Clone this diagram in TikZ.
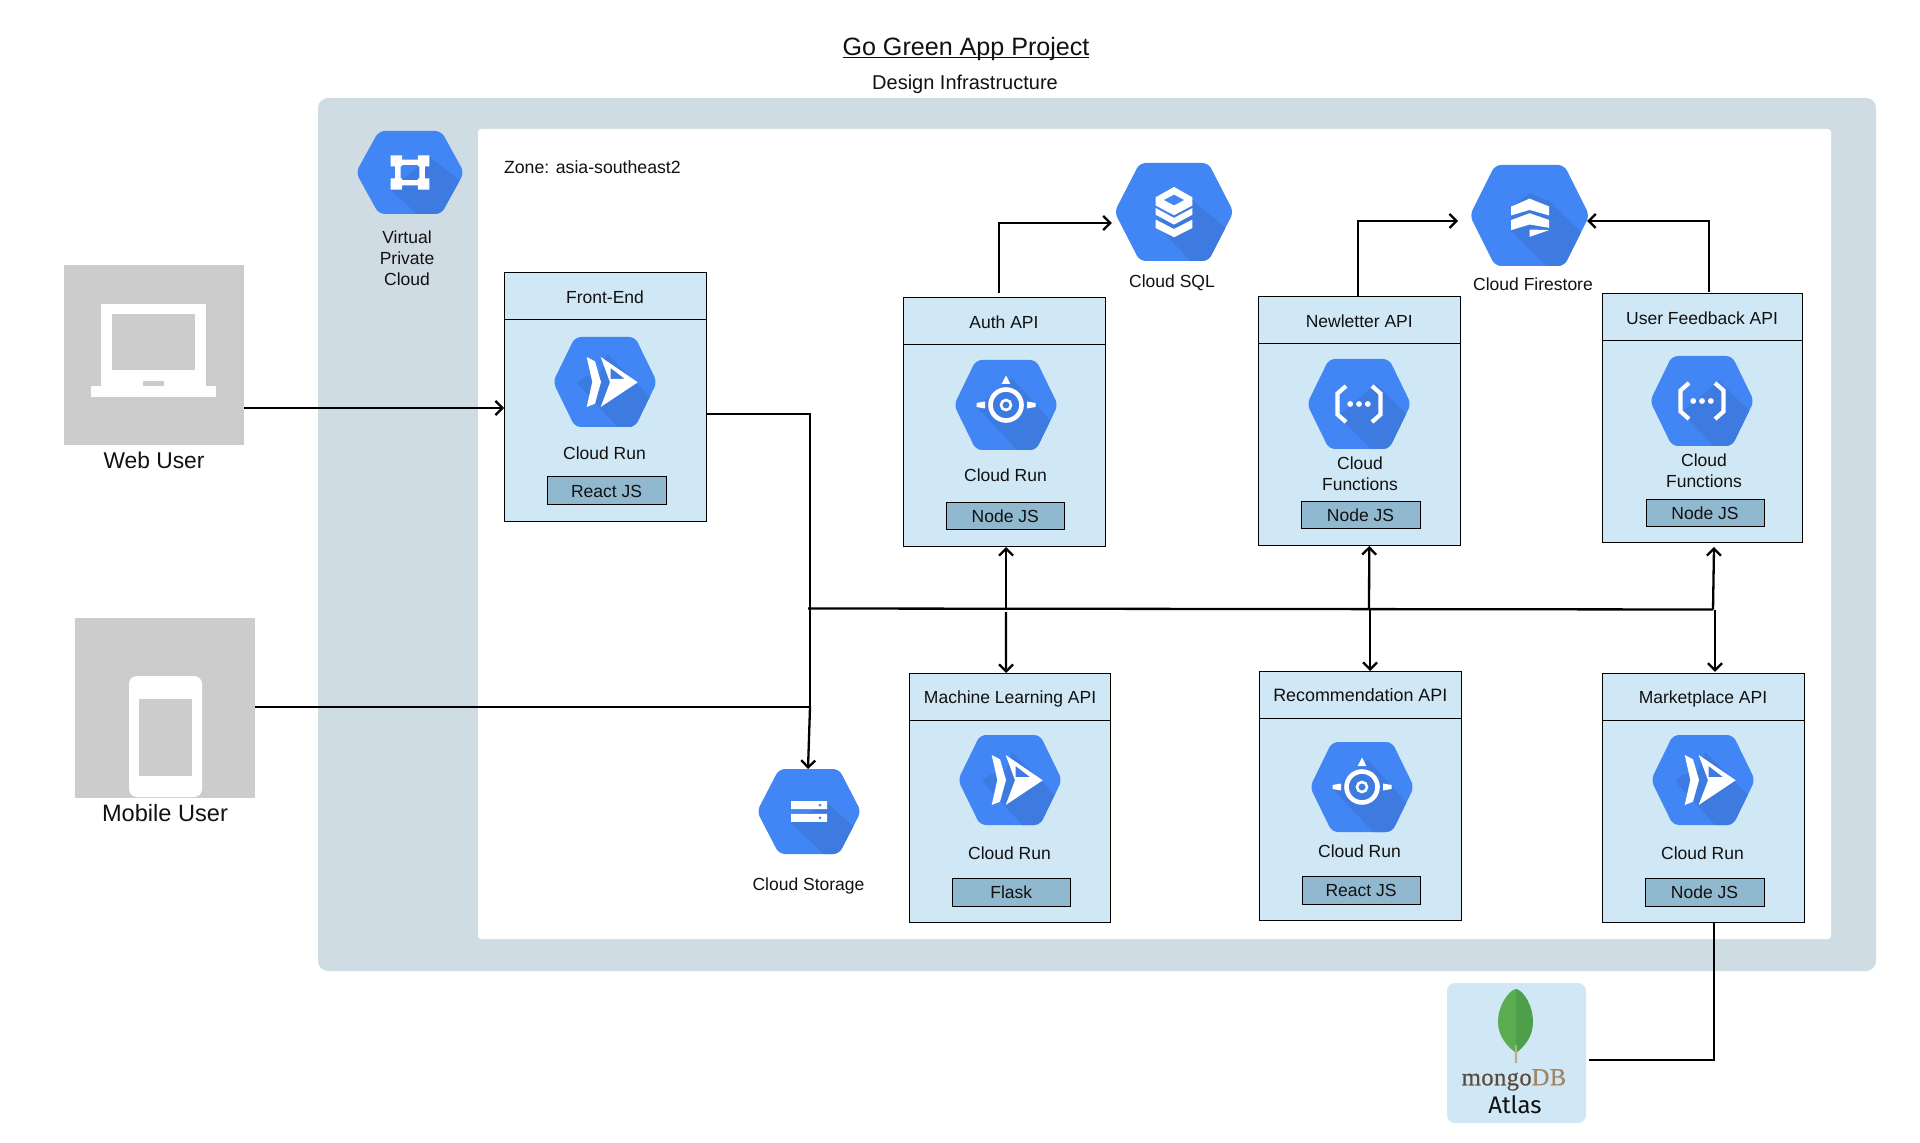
\documentclass[tikz,border=0pt]{standalone}
\usepackage{fontspec}
\setmainfont{Liberation Sans}
\newfontfamily\mongofont[LetterSpace=1.6,FakeBold=0.6]{Liberation Serif}
\newfontfamily\atlasfont{Fira Sans}
\usetikzlibrary{arrows.meta}
\definecolor{panelc}{HTML}{CFDCE3}
\definecolor{boxc}{HTML}{D0E8F5}
\definecolor{tagc}{HTML}{90B8CE}
\definecolor{grayc}{HTML}{CCCCCC}
\definecolor{hexc}{HTML}{4285F4}
\definecolor{hexd}{HTML}{3E7BE0}
\definecolor{txtc}{HTML}{111111}
\definecolor{leafl}{HTML}{59AD50}
\definecolor{leafr}{HTML}{4DA049}
\definecolor{stemc}{HTML}{B8AE8A}
\definecolor{mongoa}{HTML}{5A4B3E}
\definecolor{mongob}{HTML}{A08665}
\tikzset{
  lab/.style={inner sep=0pt,outer sep=0pt,text=txtc,font=\fontsize{8.75}{10.5}\selectfont,text height=6.3pt,text depth=0pt},
  multilab/.style={inner sep=0pt,outer sep=0pt,text=txtc,font=\fontsize{8.75}{10.5}\selectfont,align=center},
  boxbody/.style={draw=black,line width=.5pt,fill=boxc,inner sep=0pt,outer sep=0pt,anchor=north west},
  boxhead/.style={boxbody,lab,text height=7.3pt},
  tagbox/.style={draw=black,line width=.5pt,fill=tagc,lab,anchor=north west},
  hexanchor/.style={inner sep=0pt,outer sep=0pt},
  userbox/.style={fill=grayc,inner sep=0pt,outer sep=0pt,anchor=north west},
  conn/.style={line width=1.15pt,draw=black},
  arr/.style={conn,-{Straight Barb[length=3.5pt,width=7pt]}},
}
\def\hexpath{(-52,0) -- (-30,-45) -- (30,-45) -- (52,0) -- (30,45) -- (-30,45) -- cycle}
% name cx cy w h icon
\newcommand\hexa[6]{%
  \node[hexanchor,minimum width=#4*0.5pt,minimum height=#5*0.5pt] (#1) at (#2,#3) {};
  \begin{scope}[shift={(#2,#3)},xscale=#4/100,yscale=#5/90]
    \begin{scope}
      \clip[rounded corners=3pt] \hexpath;
      \fill[hexc] (-60,-60) rectangle (60,60);
      #6
    \end{scope}
  \end{scope}}
\newcommand\darkpart[1]{\fill[hexd] #1 -- cycle;}
\newcommand\iconrun{%
  \darkpart{(-28,1) -- (-20,-5) -- (-4,-10) -- (2,-28) -- (60,30) -- (60,60) -- (26,60)}
  \fill[white] (-18.3,-25) -- (-10,-20.7) -- (-4,0) -- (-10,21.7) -- (-18.3,25) -- (-12.7,0) -- cycle;
  \fill[white,even odd rule] (-4.3,-25) -- (32.7,0.3) -- (-4.3,25) -- (5,0.3) -- cycle (5.7,-14) -- (20,-3) -- (5.7,-3) -- cycle;}
\newcommand\iconengine{%
  \darkpart{(-29,2) -- (6,-27) -- (60,33) -- (60,60) -- (25,60)}
  \draw[white,line width=2.3pt] (0,0) circle (15.5);
  \draw[white,line width=1.3pt] (0,0) circle (5);
  \fill[white] (0,-29.5) -- (4.3,-21) -- (-4.3,-21) -- cycle;
  \fill[white] (-29.5,-2) -- (-21,-3.5) -- (-21,3.5) -- (-29.5,2) -- cycle;
  \fill[white] (29.5,-2) -- (21,-3.5) -- (21,3.5) -- (29.5,2) -- cycle;}
\newcommand\iconfunc{%
  \darkpart{(-21,12) -- (17,-20) -- (60,23) -- (60,60) -- (27,60)}
  \draw[white,line width=2.1pt,line join=miter] (-13,-18) -- (-21.5,-10.5) -- (-21.5,10.5) -- (-13,18);
  \draw[white,line width=2.1pt,line join=miter] (13,-18) -- (21.5,-10.5) -- (21.5,10.5) -- (13,18);
  \fill[white] (-8.8,0) circle (2.9) (0,0) circle (2.9) (8.8,0) circle (2.9);}
\newcommand\iconsql{%
  \darkpart{(-16,10) -- (16,-11) -- (60,28) -- (60,60) -- (27,60)}
  \fill[white,even odd rule] (0,-23) -- (16,-13.5) -- (16,-6) -- (0,3) -- (-16,-6) -- (-16,-13.5) -- cycle (0,-16) -- (9,-11) -- (0,-6) -- (-9,-11) -- cycle;
  \fill[white] (-16,-3.6) -- (0,5.4) -- (16,-3.6) -- (16,2.5) -- (0,11.6) -- (-16,2.5) -- cycle;
  \fill[white] (-16,7) -- (0,15.6) -- (16,7) -- (16,14.7) -- (0,23.2) -- (-16,14.7) -- cycle;}
\newcommand\iconfire{%
  \darkpart{(-16,14) -- (-16,-8) -- (0,-20) -- (17,-13) -- (60,30) -- (60,60) -- (30,60)}
  \fill[white] (-16,-8) -- (0,-15) -- (17,-8) -- (17,0) -- (0,-5) -- (-16,0) -- cycle;
  \fill[white] (-16,4) -- (0,-2) -- (17,4) -- (17,11) -- (0,8) -- (-16,13) -- cycle;
  \fill[white] (0,12.5) -- (17,13) -- (0,19) -- cycle;}
\newcommand\iconstore{%
  \darkpart{(-18,12.4) -- (17.4,-9.5) -- (60,30) -- (60,60) -- (30,60)}
  \fill[white] (-18,-11) rectangle (18,-2.5) (-18,2.5) rectangle (18,11);
  \fill[hexc] (11,-6.7) circle (1.6) (11,6.7) circle (1.6);}
\newcommand\iconvpc{%
  \darkpart{(-19,19) -- (19,-17) -- (60,20) -- (60,60) -- (22,60)}
  \fill[white,even odd rule] (-14.4,-14) rectangle (14.4,14) (-9,-8.3) rectangle (9,8.3);
  \fill[white] (-18.6,-18.5) rectangle (-7.5,-6.5) (7.5,-18.5) rectangle (18.6,-6.5) (-18.6,6.5) rectangle (-7.5,18.5) (7.5,6.5) rectangle (18.6,18.5);}
% name x0 y0 x1 y1 yh title
\newcommand\apibox[7]{%
  \node[boxbody,minimum width={(#4-#2)*0.5pt},minimum height={(#5-#3)*0.5pt}] (#1) at (#2,#3) {};
  \node[boxhead,minimum width={(#4-#2)*0.5pt},minimum height={(#6-#3)*0.5pt}] (#1-head) at (#2,#3) {#7};}
% name x0 y0 x1 y1 text
\newcommand\techtag[6]{%
  \node[tagbox,minimum width={(#4-#2)*0.5pt},minimum height={(#5-#3)*0.5pt}] (#1) at (#2,#3) {#6};}
\begin{document}
\begin{tikzpicture}[x=0.5pt,y=-0.5pt]
\useasboundingbox (0,0) rectangle (1920,1143);
\fill[white] (0,0) rectangle (1920,1143);
% panels
\fill[panelc,rounded corners=5pt] (318,98) rectangle (1876,971);
\fill[white,rounded corners=1.5pt] (478,129) rectangle (1831,939);
% titles
\node[lab,font=\fontsize{12.55}{15}\selectfont] (title) at (966,49.5) {\sbox0{Go Green App Project}\usebox0\llap{\rule[-1.2pt]{\wd0}{0.8pt}}};
\node[lab,font=\fontsize{10}{12}\selectfont] (subtitle) at (965,83) {Design Infrastructure};
\node[lab,anchor=west,font=\fontsize{8.85}{10.5}\selectfont] (zone) at (504,167) {Zone: asia-southeast2};
% users
\node[userbox,minimum width=90pt,minimum height=90pt] (web) at (64,265) {};
\fill[white] (101,303.6) rectangle (206,386);
\fill[grayc] (112,314) rectangle (195,370);
\fill[white] (91,386) rectangle (216,397);
\fill[grayc] (143,381) rectangle (164,386);
\node[lab,font=\fontsize{11.4}{13}\selectfont,text height=8.2pt] (weblabel) at (154,460) {Web User};
\node[userbox,minimum width=90pt,minimum height=89.8pt] (mobile) at (75,618) {};
\fill[white,rounded corners=4pt] (129,676) rectangle (202,797);
\fill[grayc] (139,698.5) rectangle (192,775.5);
\node[lab,font=\fontsize{11.8}{13}\selectfont,text height=8.4pt] (mobilelabel) at (165,813) {Mobile User};
% vpc
\hexa{vpc}{410}{172.5}{104}{83}{\iconvpc}
\node[multilab] (vpclabel) at (407,258) {Virtual\\Private\\Cloud};
% front end
\apibox{front}{504}{273}{706}{522}{320}{Front-End}
\hexa{fronthex}{605}{382}{100}{90}{\iconrun}
\node[lab] (frontlabel) at (604.5,453) {Cloud Run};
\techtag{fronttag}{547}{477}{666}{505}{React JS}
% auth
\apibox{auth}{903}{298}{1105}{547}{345}{Auth API}
\hexa{authhex}{1006}{405}{100}{90}{\iconengine}
\node[lab] (authlabel) at (1005.5,475) {Cloud Run};
\techtag{authtag}{946}{503}{1064.5}{530}{Node JS}
% newsletter
\apibox{news}{1258.5}{297}{1460}{546}{344}{Newletter API}
\hexa{newshex}{1359}{404}{100}{90}{\iconfunc}
\node[multilab] (newslabel) at (1360,473.5) {Cloud\\Functions};
\techtag{newstag}{1301}{502}{1420}{529}{Node JS}
% feedback
\apibox{feedback}{1602}{294}{1802}{543}{341}{User Feedback API}
\hexa{feedbackhex}{1702}{401}{100}{90}{\iconfunc}
\node[multilab] (feedbacklabel) at (1704,470.5) {Cloud\\Functions};
\techtag{feedbacktag}{1646}{500}{1764}{527}{Node JS}
% sql, firestore
\hexa{sql}{1174}{212}{114.5}{98}{\iconsql}
\node[lab] (sqllabel) at (1172,281) {Cloud SQL};
\hexa{fire}{1529.6}{215.5}{115}{101}{\iconfire}
\node[lab] (firelabel) at (1533,284) {Cloud Firestore};
% ml
\apibox{ml}{909.6}{673}{1110.5}{922}{720}{Machine Learning API}
\hexa{mlhex}{1010}{780}{100}{90}{\iconrun}
\node[lab] (mllabel) at (1009.5,853) {Cloud Run};
\techtag{mltag}{952.5}{878}{1070}{906}{Flask}
% recommendation
\apibox{rec}{1259.6}{671}{1461}{920}{718}{\fontsize{8.95}{10.5}\selectfont Recommendation API}
\hexa{rechex}{1362}{787}{100}{90}{\iconengine}
\node[lab] (reclabel) at (1359.5,851) {Cloud Run};
\techtag{rectag}{1302}{876}{1420}{904}{React JS}
% marketplace
\apibox{market}{1602}{673}{1804}{922}{720}{Marketplace API}
\hexa{markethex}{1703}{780}{100}{90}{\iconrun}
\node[lab] (marketlabel) at (1702.5,853) {Cloud Run};
\techtag{markettag}{1645}{878}{1764}{906}{Node JS}
% storage
\hexa{store}{809}{811.5}{100}{85}{\iconstore}
\node[lab] (storelabel) at (808.5,884) {Cloud Storage};
% mongo
\node[fill=boxc,rounded corners=4pt,inner sep=0pt,outer sep=0pt,minimum width=69.5pt,minimum height=70pt] (mongo) at (1516.5,1053) {};
\fill[leafl] (1516,989) .. controls (1509,990) and (1498,1005) .. (1498,1022) .. controls (1498,1037) and (1508,1047) .. (1516,1053) -- cycle;
\fill[leafr] (1516,989) .. controls (1523,990) and (1533,1005) .. (1533,1022) .. controls (1533,1037) and (1524,1047) .. (1516,1053) -- cycle;
\fill[stemc] (1515,1045) -- (1517,1045) -- (1517.2,1063) -- (1514.8,1063) -- cycle;
\node[inner sep=0pt,outer sep=0pt,font=\mongofont\fontsize{12.3}{14}\selectfont,text height=6.3pt,text depth=0pt] (mongotext) at (1514,1079) {\textcolor{mongoa}{mongo}\textcolor{mongob}{DB}};
\node[inner sep=0pt,outer sep=0pt,text=txtc,font=\atlasfont\fontsize{12}{14}\selectfont,text height=8.4pt,text depth=0pt] (atlas) at (1515,1105) {Atlas};
% connector junctions
\coordinate (j1) at (810,414);
\coordinate (j2) at (810,707);
\coordinate (busl) at (808,608.5);
\coordinate (busr) at (1713,609.5);
\coordinate (ba) at (1006,608.5);
\coordinate (bm) at (1006,612);
\coordinate (bn) at (1369,609);
\coordinate (br) at (1370,609);
\coordinate (bf) at (1713,609.5);
\coordinate (bk) at (1715,610);
% connectors
\draw[arr] ([yshift=-26.5pt]web.east) -- ([yshift=-5.25pt]front.west);
\draw[conn] ([yshift=-8.25pt]front.east) -- (j1) -- (j2);
\draw[conn] ([yshift=.4pt]mobile.east) -- (j2);
\draw[arr] (j2) -- ([xshift=-.5pt]store.north);
\draw[conn] (busl) -- (busr);
\draw[arr] (ba) -- ([xshift=1pt]auth.south);
\draw[arr] (bm) -- ([xshift=-2pt]ml.north);
\draw[arr] (bn) -- ([xshift=5pt]news.south);
\draw[arr] (br) -- ([xshift=4.85pt]rec.north);
\draw[arr] (bf) -- ([xshift=6pt,yshift=-2pt]feedback.south);
\draw[arr] (bk) -- ([xshift=6pt,yshift=.6pt]market.north);
\draw[arr] ([xshift=-2.5pt,yshift=2.5pt]auth.north) |- ([xshift=-2.5pt,yshift=-5.5pt]sql.west);
\draw[arr] ([xshift=-.5pt]news.north) |- ([xshift=-7pt,yshift=-2.75pt]fire.west);
\draw[arr] ([xshift=3.5pt,yshift=1.1pt]feedback.north) |- ([yshift=-2.75pt]fire.east);
\draw[conn] ([xshift=5.5pt]market.south) |- ([xshift=1.5pt,yshift=-3.5pt]mongo.east);
\end{tikzpicture}
\end{document}
